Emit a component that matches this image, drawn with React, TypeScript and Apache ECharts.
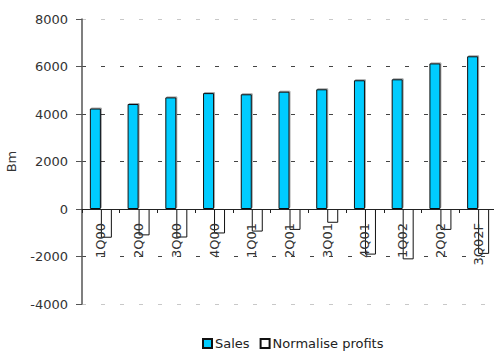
import React, { useEffect, useRef } from "react";
import * as echarts from "echarts";

const categories = ["1Q00", "2Q00", "3Q00", "4Q00", "1Q01", "2Q01", "3Q01", "4Q01", "1Q02", "2Q02", "3Q02F"];
const sales = [4230, 4420, 4700, 4880, 4830, 4940, 5040, 5420, 5460, 6130, 6430];
const profits = [-1210, -1110, -1200, -1030, -950, -880, -580, -1920, -2120, -880, -1890];
const seriesNames = ["Sales", "Normalise profits"];

const FONT = "DejaVu Sans";

export default function App() {
  const ref = useRef<HTMLDivElement>(null);
  useEffect(() => {
    if (!ref.current) return;
    const chart = echarts.init(ref.current, null, { renderer: "svg" });
    chart.setOption({
      animation: false,
      backgroundColor: "#ffffff",
      textStyle: { fontFamily: FONT },
      grid: { left: 82, top: 19, bottom: 48, right: -3, containLabel: false, outerBoundsMode: "none" },
      legend: {
        left: 197,
        top: 332,
        itemWidth: 9,
        itemHeight: 9,
        itemGap: 10,
        icon: "rect",
        textStyle: { fontFamily: FONT, fontSize: 13, color: "#222", padding: [0, 0, 0, -2] },
        data: seriesNames,
      },
      xAxis: {
        type: "category",
        data: categories,
        offset: -95,
        axisLine: { onZero: false, lineStyle: { color: "#222", width: 1 } },
        axisTick: { show: true, length: 4, lineStyle: { color: "#222" } },
        axisLabel: {
          rotate: 90,
          interval: 0,
          margin: 14,
          fontFamily: FONT,
          fontSize: 13,
          color: "#333",
        },
        z: 3,
      },
      yAxis: [
        {
          type: "value",
          min: -4000,
          max: 8000,
          interval: 2000,
          name: "Bm",
          nameLocation: "middle",
          nameGap: 64,
          nameTextStyle: { fontFamily: FONT, fontSize: 13, color: "#333" },
          axisLine: { show: true, lineStyle: { color: "#555", width: 1.5 } },
          axisTick: { show: true, length: 6, lineStyle: { color: "#555" } },
          axisLabel: {
            margin: 14,
            fontFamily: FONT,
            fontSize: 13,
            color: "#333",
            formatter: (v: number) => String(v),
          },
          splitLine: {
            show: true,
            showMinLine: false,
            showMaxLine: false,
            lineStyle: { color: "#444444", type: [4, 15], width: 1 },
          },
        },
        {
          type: "value",
          position: "left",
          min: -4000,
          max: 8000,
          interval: 12000,
          axisLine: { show: false },
          axisTick: { show: false },
          axisLabel: { show: false },
          splitLine: {
            show: true,
            lineStyle: { color: "#c8c8c8", type: [4, 15], width: 1 },
          },
        },
      ],
      series: [
        {
          name: seriesNames[0],
          type: "bar",
          data: sales,
          barWidth: 11,
          barGap: "0%",
          itemStyle: {
            color: "#00ccff",
            borderColor: "#111",
            borderWidth: 1,
            shadowColor: "rgba(0,0,0,0.35)",
            shadowBlur: 1,
            shadowOffsetX: 1,
            shadowOffsetY: -1,
          },
        },
        {
          name: seriesNames[1],
          type: "bar",
          data: profits,
          barWidth: 11,
          barGap: "0%",
          itemStyle: { color: "#ffffff", borderColor: "#111", borderWidth: 1 },
        },
      ],
    });
    return () => chart.dispose();
  }, []);
  return (
    <div
      ref={ref}
      style={{ position: "fixed", left: 0, top: 0, width: 494, height: 352 }}
    />
  );
}
